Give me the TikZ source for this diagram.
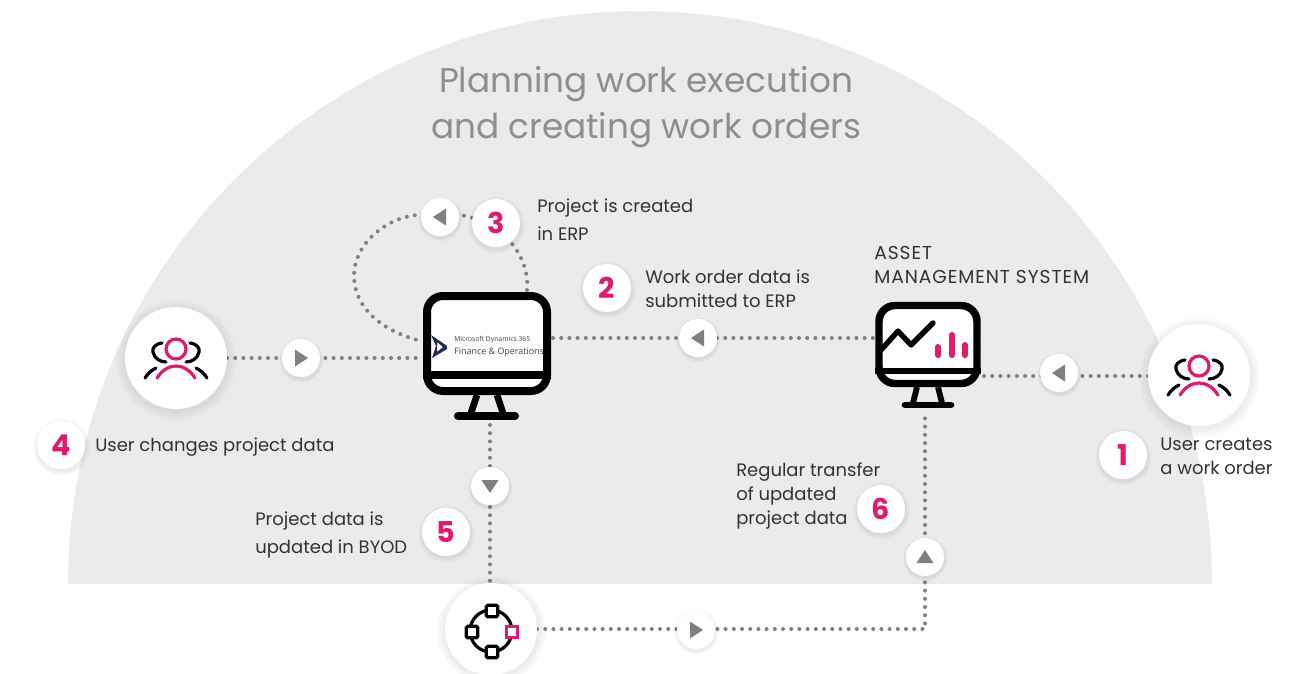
\documentclass[tikz,border=0pt]{standalone}
\usepackage{fontspec}
\setmainfont{Poppins}
\newfontfamily\logofont{Open Sans}
\newfontfamily\capsfont[LetterSpace=5]{Poppins}
\usetikzlibrary{shadows,fadings}
\definecolor{panel}{HTML}{EBEBEB}
\definecolor{pinkc}{HTML}{E6186D}
\definecolor{dotc}{HTML}{808080}
\definecolor{txtc}{HTML}{333333}
\definecolor{titlec}{HTML}{8E8E8E}
\definecolor{logoc}{HTML}{3C4258}
\definecolor{logomark}{HTML}{1E2A55}
\pgfdeclarelayer{lines}
\pgfdeclarelayer{panellayer}
\pgfsetlayers{panellayer,lines,main}
\tikzset{
  softshadow/.style={circular drop shadow={shadow xshift=0pt,shadow yshift=-1pt,shadow scale=1.2,opacity=.07,fill=black}},
  disc/.style={circle,fill=white,inner sep=0pt,softshadow},
  arrowdisc/.style={disc,minimum size=28.5pt},
  numdisc/.style={disc,minimum size=36pt,text=pinkc,font=\fontsize{21.5}{21.5}\selectfont\bfseries},
  userdisc/.style={disc,minimum size=76.5pt},
  caption/.style={anchor=west,align=left,text=txtc,inner sep=0pt,font=\fontsize{13.5}{18}\selectfont},
  dots/.style={draw=dotc,line width=3pt,line cap=round,dash pattern=on 0pt off 6.15pt},
  screen/.style={draw=black,fill=white,line width=6pt,rounded corners=12pt,inner sep=0pt},
  blk/.style={draw=black,line width=6pt,line cap=butt},
  foot/.style={draw=black,line width=6pt,line cap=round},
  icon/.style={line width=2.4pt,line cap=round},
  tri/.pic={\fill[dotc] (-7,0)--(6,-8.5)--(6,8.5)--cycle;},
  people/.pic={
    \draw[icon,pinkc] (0,-9) circle[radius=10];
    \draw[icon,pinkc] (-19,20) .. controls (-14,12) and (-7,8) .. (0,8) .. controls (7,8) and (14,12) .. (19,20);
    \draw[icon,black] (-14,-15) .. controls (-21,-14) and (-24,-10) .. (-23,-6) .. controls (-22,0) and (-16,4) .. (-10,4);
    \draw[icon,black] (14,-15) .. controls (21,-14) and (24,-10) .. (23,-6) .. controls (22,0) and (16,4) .. (10,4);
    \draw[icon,black] (-31,20) .. controls (-28,15) and (-24,12) .. (-20,10);
    \draw[icon,black] (31,20) .. controls (28,15) and (24,12) .. (20,10);
  },
}
\begin{document}
\begin{tikzpicture}[x=0.75pt,y=-0.75pt]
\useasboundingbox (0,0) rectangle (1306,674);
\begin{pgfonlayer}{panellayer}
  \begin{scope}
    \clip (0,0) rectangle (1306,583);
    \fill[panel] (640,583) circle[radius=572];
  \end{scope}
\end{pgfonlayer}

% title
\node[text=titlec,font=\fontsize{25.7}{34}\selectfont,align=center,inner sep=0pt] (title) at (646,107) {Planning work execution\\and creating work orders};

% monitors
\node[screen,minimum width=90pt,minimum height=71.25pt] (m1) at (487,343.5) {};
\node[screen,minimum width=73.5pt,minimum height=58.5pt,line width=5.6pt] (m2) at (928,344.5) {};
\draw[blk,line width=5.5pt] (m1.west |- 0,375) -- (m1.east |- 0,375);
\draw[blk,line width=5pt] (477,395) -- (471,413);
\draw[blk,line width=5pt] (497,395) -- (503,413);
\draw[foot] (458,416) -- (515,416);
\draw[blk,line width=4.6pt] (m2.west |- 0,371) -- (m2.east |- 0,371);
\draw[blk,line width=4.4pt] (917,387) -- (913,403);
\draw[blk,line width=4.4pt] (938,387) -- (942,403);
\draw[foot,line width=5pt] (905,405) -- (951,405);
% monitor 1 logo
\fill[logomark,even odd rule] (431,335) -- (447,346) -- (447,349) -- (432,358) -- (436,346) -- cycle (437,342) -- (443,347) -- (437,352) -- cycle;
\node[anchor=west,inner sep=0pt,text=logoc,font=\logofont\fontsize{5.1}{5}\selectfont] (logoa) at (454,340) {Microsoft Dynamics 365};
\node[anchor=west,inner sep=0pt,text=logoc,font=\logofont\fontsize{6.7}{7}\selectfont] (logob) at (454,352) {Finance \& Operations};
% monitor 2 chart
\draw[black,line width=4pt,line cap=round,line join=round] (881,350) -- (898,331) -- (911,345) -- (933,323);
\draw[pinkc,line width=4.6pt,line cap=round] (938,347) -- (938,355);
\draw[pinkc,line width=4.6pt,line cap=round] (952,335) -- (952,355);
\draw[pinkc,line width=4.6pt,line cap=round] (965,345) -- (965,355);

% discs
\node[userdisc] (u4) at (176,358) {};
\node[userdisc] (u1) at (1199,375) {};
\node[disc,minimum size=69pt] (byod) at (491,629) {};
\pic at (u4) {people};
\pic at (u1) {people};

\node[arrowdisc] (a4) at (301,358) {};
\node[arrowdisc] (a3) at (440,217) {};
\node[arrowdisc] (a2) at (698,338) {};
\node[arrowdisc] (a1) at (1059,373) {};
\node[arrowdisc] (a5) at (490,486) {};
\node[arrowdisc] (a7) at (696,630) {};
\node[arrowdisc] (a6) at (925,557) {};
\pic[rotate=180] at (a4) {tri};
\pic at (a3) {tri};
\pic at (a2) {tri};
\pic at (a1) {tri};
\pic[rotate=90] at (a5) {tri};
\pic[rotate=180] at (a7) {tri};
\pic[rotate=-90] at (a6) {tri};

\node[numdisc] (n1) at (1123,455) {1};
\node[numdisc] (n2) at (607,288) {2};
\node[numdisc] (n3) at (496,223) {3};
\node[numdisc] (n4) at (61,445) {4};
\node[numdisc] (n5) at (446,532) {5};
\node[numdisc] (n6) at (881,509) {6};

% byod icon
\draw[black,line width=2.4pt] (491,631) circle[radius=21];
\foreach \nm/\cx/\cy in {st/492/611,sl/472/632,sb/492/652}{
  \node[draw=black,fill=white,line width=2.4pt,minimum size=8.5pt,inner sep=0pt,rounded corners=1pt] (\nm) at (\cx,\cy) {};
}
\node[draw=pinkc,fill=white,line width=2.4pt,minimum size=8.5pt,inner sep=0pt] (sr) at (512,632) {};

% captions
\node[caption] (c1) at (1160,456) {User creates\\a work order};
\node[caption] (c2) at (645,289) {Work order data is\\submitted to ERP};
\node[caption,font=\fontsize{13.5}{21}\selectfont] (c3) at (537,220) {Project is created\\in ERP};
\node[caption] (c4) at (95,447) {User changes project data};
\node[caption,font=\fontsize{13.5}{21}\selectfont] (c5) at (255,535) {Project data is\\updated in BYOD};
\node[caption] (c6) at (736,496) {Regular transfer\\of updated\\project data};
\node[caption,font=\capsfont\fontsize{14}{18}\selectfont] (c7) at (874,265) {ASSET\\MANAGEMENT SYSTEM};

% connector ends
\coordinate (m1l) at (421,358);
\coordinate (m1lb) at (421,341);
\coordinate (m1r) at (553,338);
\coordinate (m1t) at (527,290);
\coordinate (m1b) at (490,425);
\coordinate (m2l) at (873,338);
\coordinate (m2r) at (983,376);
\coordinate (m2b) at (925,411);
\coordinate (corner) at (925,629);
\coordinate (u1l) at (1148,376);
\coordinate (u4r) at (227,358);
\coordinate (byr) at (537,629);
\coordinate (bt) at (490,583);
\begin{pgfonlayer}{lines}
  \draw[dots] (u4r) -- (m1l);
  \draw[dots] (m1r) -- (m2l);
  \draw[dots] (u1l) -- (m2r);
  \draw[dots] (m1b) -- (bt);
  \draw[dots] (byr) -- (corner) -- (m2b);
  \draw[dots] (m1t) .. controls (530,258) and (505,222) .. (460,215) -- (417,215) .. controls (385,218) and (354,245) .. (354,275) .. controls (354,310) and (385,332) .. (m1lb);
\end{pgfonlayer}
\end{tikzpicture}
\end{document}
